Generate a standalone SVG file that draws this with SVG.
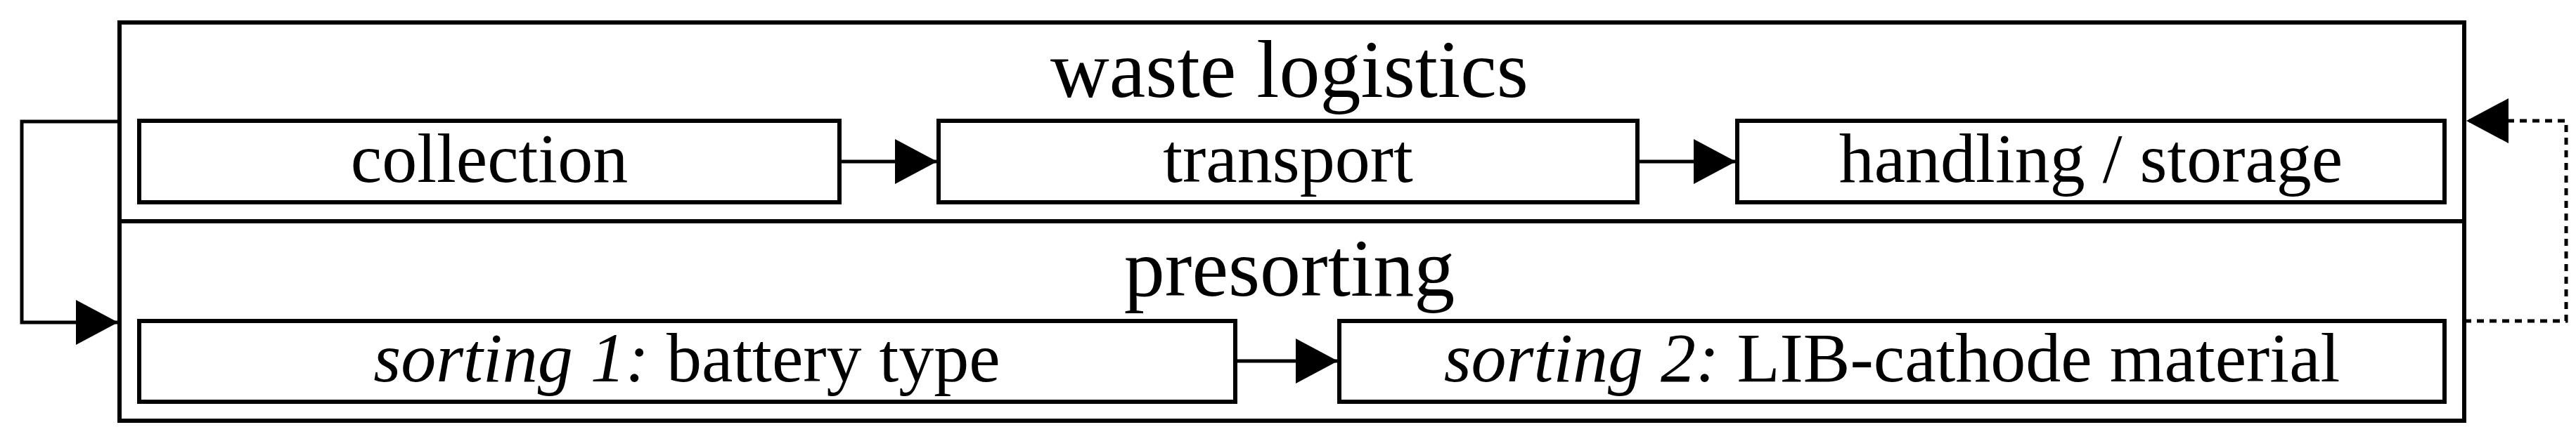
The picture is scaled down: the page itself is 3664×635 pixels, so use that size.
<svg xmlns="http://www.w3.org/2000/svg" width="3664" height="635" viewBox="0 0 3664 635">
<defs>
<style>
.b{fill:none;stroke:#000;stroke-width:6}
.c{fill:none;stroke:#000;stroke-width:5}
.t{font-family:"Liberation Serif",serif;font-size:100px;text-anchor:middle;fill:#000}
.h{font-size:116px}
</style>
<marker id="ah" viewBox="0 0 60 64" refX="60" refY="32" markerWidth="60" markerHeight="64" markerUnits="userSpaceOnUse" orient="auto"><path d="M0,0L60,32L0,64z"/></marker>
</defs>
<g id="waste-logistics"><rect class="b" x="170" y="32" width="3335" height="283"/><text class="t h" x="1834" y="138">waste logistics</text></g>
<g id="presorting"><rect class="b" x="170" y="315" width="3335" height="284"/><text class="t h" x="1834" y="421">presorting</text></g>
<g id="collection"><rect class="b" x="198" y="172" width="996" height="116"/><text class="t" x="696" y="259">collection</text></g>
<g id="transport"><rect class="b" x="1335" y="172" width="994" height="116"/><text class="t" x="1832" y="259">transport</text></g>
<g id="handling"><rect class="b" x="2471" y="172" width="1006" height="116"/><text class="t" x="2974" y="259">handling / storage</text></g>
<g id="sorting1"><rect class="b" x="198" y="457" width="1559" height="115"/><text class="t" x="977" y="543"><tspan font-style="italic">sorting 1:</tspan> battery type</text></g>
<g id="sorting2"><rect class="b" x="1905" y="457" width="1572" height="115"/><text class="t" x="2691" y="543"><tspan font-style="italic">sorting 2:</tspan> LIB-cathode material</text></g>
<g id="connectors">
<path class="c" d="M1194,230H1333" marker-end="url(#ah)"/>
<path class="c" d="M2329,230H2469" marker-end="url(#ah)"/>
<path class="c" d="M1757,514H1903" marker-end="url(#ah)"/>
<path class="c" d="M170,173H31V459H168" marker-end="url(#ah)"/>
<path class="c" d="M3505,457H3650V172H3508" stroke-dasharray="10,8" marker-end="url(#ah)"/>
</g>
</svg>
